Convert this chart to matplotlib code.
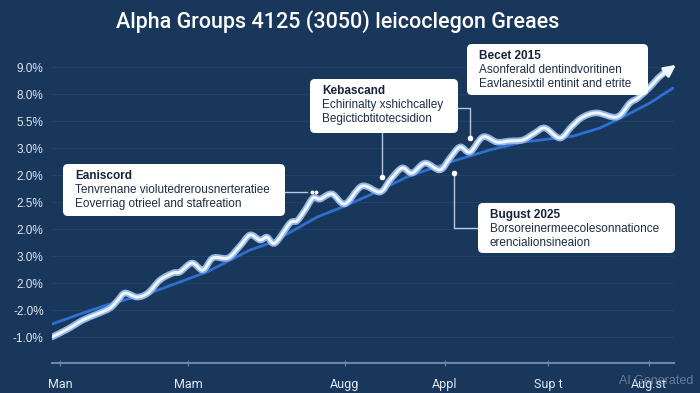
import matplotlib.pyplot as plt
from matplotlib.patches import FancyBboxPatch, PathPatch
from matplotlib.path import Path

# values (x in weeks, y in tick-index units)
wave_x = [0, 1.6, 3.1, 4.5, 5.8, 6.6, 7.3, 8.5, 9.6, 10.8, 12.1, 12.8, 14.0, 15.1, 16.1, 17.6,
          18.8, 19.8, 20.8, 21.5, 22.3, 23.8, 24.5, 25.3, 26.1, 26.8, 28.0, 29.3, 31.0, 32.8,
          33.8, 35.0, 36.0, 37.3, 38.8, 39.8, 40.8, 41.8, 43.1, 44.5, 45.8, 47.1, 48.3, 49.3,
          50.8, 52.0, 53.1, 54.5, 56.5, 57.8, 58.6, 59.8, 60.6, 61.3]
wave_y = [0.00, 0.30, 0.63, 0.85, 1.07, 1.37, 1.63, 1.48, 1.63, 2.11, 2.37, 2.41, 2.74, 2.48,
          2.93, 2.93, 3.37, 3.78, 3.59, 3.70, 3.48, 4.22, 4.30, 4.70, 5.15, 5.11, 5.30, 4.93,
          5.59, 5.37, 5.81, 6.26, 6.07, 6.44, 6.19, 6.63, 7.04, 6.85, 7.41, 7.22, 7.26, 7.30,
          7.56, 7.74, 7.37, 7.81, 8.15, 8.30, 8.15, 8.67, 8.85, 9.26, 9.59, 9.81]
arrow_head = (62.4, 10.08)

trend_x = [0, 2.8, 5.5, 9.8, 15.5, 19.8, 22.1, 26.5, 28.8, 31.8, 35.5, 39.8, 43.8, 47.1,
           52.1, 54.8, 57.1, 59.8, 62.1]
trend_y = [0.48, 0.85, 1.19, 1.63, 2.41, 3.22, 3.52, 4.44, 4.78, 5.26, 5.93, 6.48, 6.93,
           7.22, 7.44, 7.74, 8.15, 8.67, 9.22]

month_pos = [0.8, 13.6, 29.3, 39.3, 49.6, 59.7]
month_labels = ['Man', 'Mam', 'Augg', 'Appl', 'Sup t', 'Aug.st']
ytick_labels = ['-1.0%', '-2.0%', '2.0%', '3.0%', '2.0%', '2.5%', '2.0%', '3.0%', '5.5%', '8.0%', '9.0%']

title = 'Alpha Groups 4125 (3050) leicoclegon Greaes'
callouts = [
    ('Eaniscord', 'Tenvrenane violutedrerousnerteratiee', 'Eoverriag otrieel and stafreation'),
    ('Kebascand', 'Echirinalty xshichcalley', 'Begicticbtitotecsidion'),
    ('Becet 2015', 'Asonferald dentindvoritinen', 'Eavlanesixtil entinit and etrite'),
    ('Bugust 2025', 'Borsoreinermeecolesonnationce', 'erencialionsineaion'),
]

BG = '#19365b'
plt.rcParams['font.family'] = ['Liberation Sans', 'DejaVu Sans']


def smooth_path(xs, ys):
    # cubic bezier segments through every point (catmull-rom style handles)
    pts = list(zip(xs, ys))
    n = len(pts)
    verts = [pts[0]]
    codes = [Path.MOVETO]
    for i in range(n - 1):
        p0 = pts[max(i - 1, 0)]
        p1 = pts[i]
        p2 = pts[i + 1]
        p3 = pts[min(i + 2, n - 1)]
        c1 = (p1[0] + (p2[0] - p0[0]) / 6, p1[1] + (p2[1] - p0[1]) / 6)
        c2 = (p2[0] - (p3[0] - p1[0]) / 6, p2[1] - (p3[1] - p1[1]) / 6)
        verts += [c1, c2, p2]
        codes += [Path.CURVE4] * 3
    return Path(verts, codes)


fig = plt.figure(figsize=(7, 3.93), dpi=100)
fig.patch.set_facecolor(BG)
ax = fig.add_axes([52/700, 1 - 363/393, 622/700, 303/393])
ax.set_facecolor(BG)

ax.plot(trend_x, trend_y, color='#2f6fcf', lw=2, solid_capstyle='round', zorder=3)
wave = smooth_path(wave_x, wave_y)
ax.add_patch(PathPatch(wave, fc='none', ec='#8fb6e6', lw=4.8, capstyle='round',
                       joinstyle='round', zorder=4))
ax.add_patch(PathPatch(wave, fc='none', ec='#eef5fc', lw=2.2, capstyle='round',
                       joinstyle='round', zorder=5))
ax.annotate('', xy=arrow_head, xytext=(wave_x[-2], wave_y[-2]), annotation_clip=False,
            arrowprops=dict(arrowstyle='-|>', color='#eef5fc', lw=2.2, mutation_scale=17,
                            shrinkA=0, shrinkB=0),
            zorder=6)

ax.set_xlim(0, 62.2)
ax.set_ylim(-0.963, 10.26)
ax.set_yticks(range(len(ytick_labels)))
ax.set_yticklabels(ytick_labels, color='#dfe7f1', fontsize=8.5)
ax.set_xticks(month_pos)
ax.set_xticklabels(month_labels, color='#e3eaf2', fontsize=9, family=['Roboto', 'DejaVu Sans'])
ax.tick_params(axis='y', length=0, pad=6)
ax.tick_params(axis='x', length=5, direction='inout', color='#6a86a8', pad=8)
ax.grid(axis='y', color='#2a4a72', lw=0.7, alpha=0.6)
for s in ['top', 'right', 'left']:
    ax.spines[s].set_visible(False)
ax.spines['bottom'].set_color('#6a86a8')
ax.spines['bottom'].set_linewidth(1.5)

# annotation layer in figure pixels
ov = fig.add_axes([0, 0, 1, 1])
ov.set_xlim(0, 700)
ov.set_ylim(393, 0)
ov.axis('off')

ov.text(338, 22, title, color='white', fontsize=15.5, ha='center', va='center',
        family=['Roboto', 'DejaVu Sans'], fontweight='medium')

boxes = [(63, 164, 222, 52), (310, 79, 148, 54), (467, 44, 181, 51), (478, 203, 197, 50)]
for (x0, y0, w, h), lines in zip(boxes, callouts):
    ov.add_patch(FancyBboxPatch((x0, y0), w, h, boxstyle='round,pad=0,rounding_size=5',
                                fc='white', ec='none', zorder=7))
    ov.text(x0 + 12, y0 + 12, lines[0], color='#16243a', fontsize=8.5, fontweight='bold',
            va='center', zorder=8)
    ov.text(x0 + 12, y0 + 26, lines[1], color='#1d2d45', fontsize=8.5, va='center', zorder=8)
    ov.text(x0 + 12, y0 + 40, lines[2], color='#1d2d45', fontsize=8.5, va='center', zorder=8)

lc = '#b9c9dd'
ov.plot([285, 307], [192, 192], color=lc, lw=1, zorder=6)
ov.plot([312, 316], [192, 192], 'o', color='white', ms=1.8, zorder=6)
ov.plot([382, 382], [133, 177], color=lc, lw=1, zorder=6)
ov.plot([458, 470, 470], [108, 108, 138], color=lc, lw=1, zorder=6)
ov.plot([454, 454, 478], [173, 228, 228], color=lc, lw=1, zorder=6)
ov.plot([382, 470, 454], [177, 138, 173], 'o', color='white', ms=3, zorder=6)

ov.text(656, 381, 'AI Generated', color='#8a9ab0', alpha=0.7, fontsize=9, ha='center',
        va='center', zorder=9)

fig.savefig('out.png', dpi=100, facecolor=BG)
